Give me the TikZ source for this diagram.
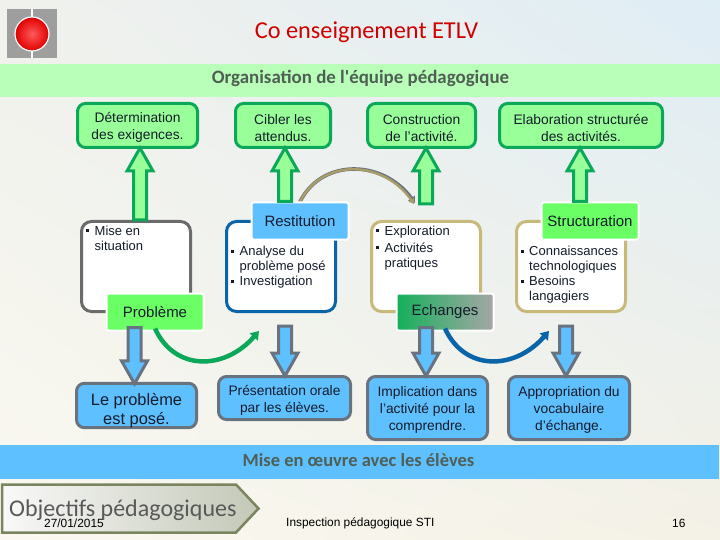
\documentclass[tikz,border=0pt]{standalone}
\usepackage{fontspec}
\setmainfont{Liberation Sans}
\newfontfamily\titlefont{Carlito}
\usetikzlibrary{arrows.meta,calc,shapes.geometric,shadings}
\definecolor{barg}{HTML}{B9FFB9}
\definecolor{barb}{HTML}{5FC0FF}
\definecolor{gline}{HTML}{0BA85A}
\definecolor{gfill}{HTML}{99FF99}
\definecolor{slate}{HTML}{68737F}
\definecolor{lime}{HTML}{6BFF66}
\definecolor{tan1}{HTML}{C8B97A}
\definecolor{navy1}{HTML}{0A64A8}
\definecolor{ink}{HTML}{141C2A}
\definecolor{bartext}{HTML}{4F5F55}
\definecolor{olive1}{HTML}{7A8560}
\definecolor{bgUL}{HTML}{F0F1EC}
\definecolor{bgUR}{HTML}{DFEDF5}
\definecolor{bgLL}{HTML}{FAF8F0}
\definecolor{bgLR}{HTML}{F4F1E6}
\tikzset{
  x=1pt,y=-1pt,
  box/.style={rounded corners=8pt,line width=3pt,align=center,text=ink,font=\fontsize{13.8}{17}\selectfont,inner sep=0pt},
  topbox/.style={box,draw=gline,fill=gfill},
  botbox/.style={box,draw=slate,fill=barb},
  listbox/.style={draw,rounded corners=10pt,line width=3pt,fill=white,minimum width=109pt,minimum height=90pt,inner sep=0pt},
  listtext/.style={anchor=north west,align=left,text=ink,font=\fontsize{13}{15}\selectfont,inner sep=0pt},
  tag/.style={rounded corners=2pt,draw=white,line width=2pt,minimum width=97pt,minimum height=37pt,inner sep=0pt,text=ink,font=\fontsize{15}{17}\selectfont},
  upblock/.style={draw=gline,fill=gfill,line width=3pt,line join=miter},
  downblock/.style={draw=slate,fill=barb,line width=3pt,line join=miter},
  foot/.style={text=black,font=\fontsize{11.9}{14}\selectfont,inner sep=0pt},
}
% vertical block arrow: #1 style, #2 tip, #3 base (x taken from tip), #4 = +1 pointing up, -1 pointing down
\newcommand{\blockArrow}[4]{%
  \draw[#1] let \p1=(#2), \p2=(#3) in
    (\x1,\y1) -- (\x1+13pt,\y1-#4*23pt) -- (\x1+6.5pt,\y1-#4*23pt) -- (\x1+6.5pt,\y2)
    -- (\x1-6.5pt,\y2) -- (\x1-6.5pt,\y1-#4*23pt) -- (\x1-13pt,\y1-#4*23pt) -- cycle;}
\newcommand{\bul}{\makebox[8.5pt][l]{\rule[3pt]{3pt}{3pt}}}
\newcommand{\hg}{\hspace*{8.5pt}}
\newcommand{\tp}{\rule{0pt}{14.5pt}}
\begin{document}
\begin{tikzpicture}
\useasboundingbox (0,0) rectangle (720,540);
% background
\shade[upper left=bgUL,upper right=bgUR,lower left=bgLL,lower right=bgLR] (0,0) rectangle (720,540);
% logo
\fill[black!38] (7,9) rectangle (57,58);
\draw[white,line width=2pt] (32,9) -- (32,58);
\node[circle,draw=white,line width=1.2pt,minimum size=34pt,inner sep=0pt,inner color=red!65!white,outer color=red!88!black] (ball) at (32,34) {};
% title and bars
\node[text=red!82!black,font=\titlefont\fontsize{24.3}{27}\selectfont,inner sep=0pt] (title) at (366.5,32) {Co enseignement ETLV};
\fill[barg] (0,64) rectangle (720,97);
\node[text=bartext,font=\titlefont\bfseries\fontsize{18.9}{21}\selectfont,inner sep=0pt] (orga) at (360.5,78.5) {Organisation de l'équipe pédagogique};
\fill[barb] (0,445) rectangle (719,479);
\node[text=bartext,font=\titlefont\bfseries\fontsize{18.5}{21}\selectfont,inner sep=0pt] (mise) at (358.5,460.5) {Mise en œuvre avec les élèves};
% top boxes
\node[topbox,minimum width=120pt,minimum height=44pt] (det) at (137.5,125.5) {\tp Détermination\\des exigences.};
\node[topbox,minimum width=95pt,minimum height=44pt] (cib) at (283,125.5) {\tp Cibler les\\attendus.};
\node[topbox,minimum width=108pt,minimum height=44pt] (con) at (421.5,125.5) {\tp Construction\\de l'activité.};
\node[topbox,minimum width=163pt,minimum height=44pt] (ela) at (581,125.5) {\tp Elaboration structurée\\des activités.};
% list boxes
\node[listbox,draw=black!58] (lbA) at (136,266.5) {};
\node[listbox,draw=navy1] (lbB) at (281,266.5) {};
\node[listbox,draw=tan1] (lbC) at (426,266.5) {};
\node[listbox,draw=tan1] (lbD) at (571,266.5) {};
\node[listtext] (tA) at (86,225.5) {\bul Mise en\\\hg situation};
\node[listtext] (tB) at (231,246) {\bul Analyse du\\\hg problème posé\\\bul Investigation};
\node[listtext] (tC) at (376,225.5) {\bul Exploration\\[2pt]\bul Activités\\\hg pratiques};
\node[listtext] (tD) at (520.5,246) {\bul Connaissances\\\hg technologiques\\\bul Besoins\\\hg langagiers};
% curved arrow tan
\coordinate (tanS) at (298,206);
\coordinate (tanE) at (415,203);
\draw[line width=3.6pt,draw=slate,-{Triangle[length=6pt,width=8pt]}] (tanS) .. controls (318,158) and (382,158) .. (tanE);
\draw[line width=2.4pt,draw=tan1!85!black,-{Triangle[length=5pt,width=6pt]}] (tanS) .. controls (318,158) and (382,158) .. ([shift={(-1pt,-1pt)}]tanE);
% tags
\node[tag,fill=lime] (pb) at (155,312) {Problème};
\node[tag,fill=barb] (res) at (300,221) {Restitution};
\node[tag,left color=gline!90!lime,right color=black!35] (ech) at (445,312) {Echanges};
\node[tag,fill=lime] (str) at (590,221) {Structuration};
% up arrows
\coordinate (upC) at (426,204);
\blockArrow{upblock}{[xshift=2.5pt,yshift=1pt]det.south}{[xshift=2.5pt]lbA.north}{1}
\blockArrow{upblock}{[xshift=2pt,yshift=1pt]cib.south}{res.north}{1}
\blockArrow{upblock}{[xshift=4.5pt,yshift=1pt]con.south}{upC}{1}
\blockArrow{upblock}{[xshift=-1pt,yshift=1pt]ela.south}{str.north}{1}
% bottom boxes
\node[botbox,minimum width=120pt,minimum height=42pt,font=\fontsize{16.4}{19}\selectfont] (poseb) at (136.5,405.5) {\rule{0pt}{22pt}Le problème\\est posé.};
\node[botbox,minimum width=132pt,minimum height=43pt] (pre) at (284.5,398) {\tp Présentation orale\\par les élèves.};
\node[botbox,minimum width=120pt,minimum height=63pt] (imp) at (427.5,408) {\tp Implication dans\\l'activité pour la\\comprendre.};
\node[botbox,minimum width=121pt,minimum height=63pt] (app) at (569,408) {\tp Appropriation du\\vocabulaire\\d'échange.};
% down arrows
\coordinate (dnB) at (285,326);
\coordinate (dnD) at (566,326);
\blockArrow{downblock}{[xshift=-2pt,yshift=-2pt]poseb.north}{[yshift=4pt]pb.south}{-1}
\blockArrow{downblock}{[xshift=.5pt,yshift=-1pt]pre.north}{dnB}{-1}
\blockArrow{downblock}{[xshift=-1.5pt,yshift=-1pt]imp.north}{[yshift=4pt]ech.south}{-1}
\blockArrow{downblock}{[xshift=-3pt,yshift=-1pt]app.north}{dnD}{-1}
% curved arrows
\coordinate (gE) at (259,331);
\coordinate (bE) at (549,331);
\draw[line width=4.5pt,draw=gline,-{Triangle[length=8pt,width=10.5pt]}] ([yshift=3pt]pb.south) .. controls (175,372) and (225,370) .. (gE);
\draw[line width=4.5pt,draw=navy1,-{Triangle[length=8pt,width=10.5pt]}] ([yshift=3pt]ech.south) .. controls (465,372) and (515,370) .. (bE);
% objectifs arrow
\draw[olive1,line width=2.5pt,left color=white!95!gray,right color=olive1!45!white] (2,484.5) -- (236,484.5) -- (258.5,508.5) -- (236,532.5) -- (2,532.5) -- cycle;
\node[text=black!65,font=\titlefont\fontsize{24}{27}\selectfont,inner sep=0pt,anchor=west] (obj) at (9,510) {Objectifs pédagogiques};
% footer
\node[foot,anchor=west] (date) at (44,523) {27/01/2015};
\node[foot,anchor=west] (insp) at (286,523.5) {Inspection pédagogique STI};
\node[foot,anchor=west] (num) at (672,523.5) {16};
\end{tikzpicture}
\end{document}
